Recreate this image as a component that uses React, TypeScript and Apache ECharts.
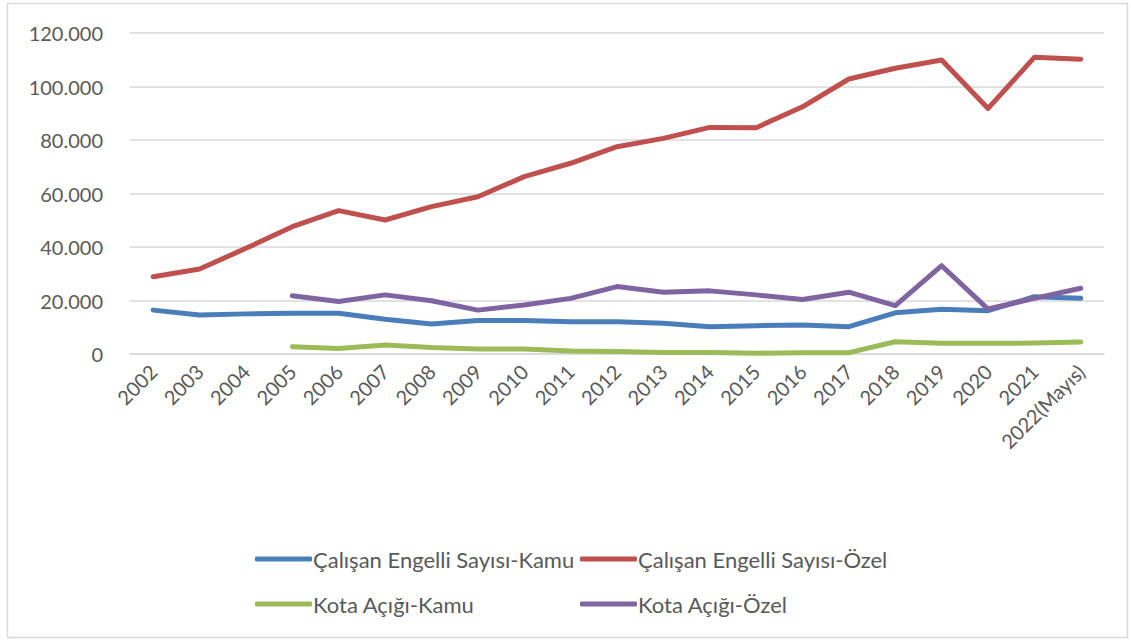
import React, { useEffect, useRef } from "react";
import * as echarts from "echarts";

const categories = ["2002","2003","2004","2005","2006","2007","2008","2009","2010","2011","2012","2013","2014","2015","2016","2017","2018","2019","2020","2021","2022(Mayıs)"];
const kamuCalisan = [16400,14600,15000,15200,15200,13000,11200,12500,12500,12100,12100,11500,10200,10600,10800,10200,15400,16700,16200,21400,20800];
const ozelCalisan = [28900,31800,39500,47600,53600,50100,55100,58800,66300,71300,77500,80600,84700,84600,92400,102800,106800,109900,91800,110900,110200];
const kamuKota = [null,null,null,2700,2100,3400,2400,1900,1900,1100,900,600,600,300,500,500,4600,4000,4000,4100,4500];
const ozelKota = [null,null,null,21800,19600,22100,19900,16400,18300,20800,25200,23100,23600,22100,20400,23100,18100,33000,16800,20800,24600];
const seriesNames = ["Çalışan Engelli Sayısı-Kamu","Çalışan Engelli Sayısı-Özel","Kota Açığı-Kamu","Kota Açığı-Özel"];
const colors = ["#4A7EBB","#C0504D","#9BBB59","#8064A2"];

const FONT = "Lato, 'Open Sans', sans-serif";

export default function App() {
  const ref = useRef<HTMLDivElement>(null);
  useEffect(() => {
    if (!ref.current) return;
    const chart = echarts.init(ref.current, undefined, { renderer: "svg" });
    const datas = [kamuCalisan, ozelCalisan, kamuKota, ozelKota];
    const legendPos = [
      { left: 250, top: 543 },
      { left: 575, top: 543 },
      { left: 250, top: 588 },
      { left: 575, top: 588 },
    ];
    chart.setOption({
      animation: false,
      backgroundColor: "#fff",
      textStyle: { fontFamily: FONT },
      graphic: [
        {
          type: "rect",
          shape: { x: 7.5, y: 3.5, width: 1120, height: 634 },
          style: { fill: "none", stroke: "#D9D9D9", lineWidth: 1.5 },
          silent: true,
        },
      ],
      legend: seriesNames.map((n, i) => ({
        data: [n],
        left: legendPos[i].left,
        top: legendPos[i].top,
        itemWidth: 57,
        itemHeight: 5,
        itemGap: 0,
        icon: "roundRect",
        textStyle: { fontFamily: FONT, fontSize: 22, color: "#595959", padding: [0, 0, 0, -4] },
      })),
      grid: { left: 130, right: 27, top: 33, bottom: 288, containLabel: false },
      xAxis: {
        type: "category",
        data: categories,
        boundaryGap: true,
        axisLine: { show: true, lineStyle: { color: "#D9D9D9", width: 1.5 } },
        axisTick: { show: false },
        axisLabel: { rotate: 45, fontFamily: FONT, fontSize: 20, color: "#595959", interval: 0, margin: 14 },
      },
      yAxis: {
        type: "value",
        min: 0,
        max: 120000,
        interval: 20000,
        axisLine: { show: false },
        axisTick: { show: false },
        splitLine: { lineStyle: { color: "#D9D9D9", width: 1.5 } },
        axisLabel: {
          fontFamily: FONT,
          fontSize: 20,
          color: "#595959",
          margin: 27,
          formatter: (v: number) => (v === 0 ? "0" : v.toLocaleString("de-DE")),
        },
      },
      series: seriesNames.map((n, i) => ({
        name: n,
        type: "line",
        data: datas[i],
        symbol: "none",
        connectNulls: false,
        lineStyle: { color: colors[i], width: 5, cap: "round", join: "round" },
        itemStyle: { color: colors[i] },
      })),
    });
    return () => chart.dispose();
  }, []);
  return <div ref={ref} style={{ position: "fixed", left: 0, top: 0, width: 1131, height: 642 }} />;
}
